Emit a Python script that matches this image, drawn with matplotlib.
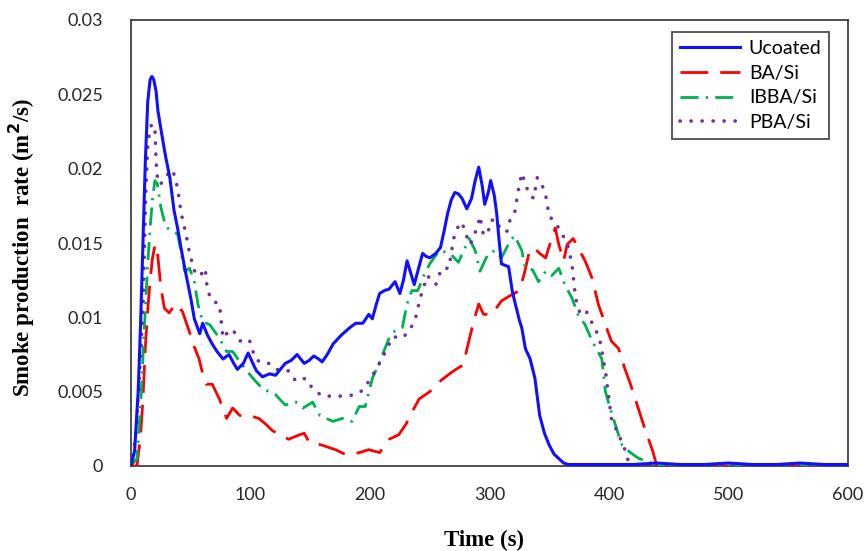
import matplotlib
matplotlib.use("Agg")
import matplotlib.pyplot as plt

# ── data ──
t_unc = [0, 3, 6, 8, 10, 12, 14, 16, 17.5, 19, 21, 22.5, 26, 29, 32.5, 36, 39, 42, 45, 48,
         50, 53, 57.5, 60, 64, 68, 72, 77, 82, 86, 89, 94, 98, 102, 105, 110, 116, 121, 125, 129,
         134, 139, 145, 149, 153, 157, 160, 165, 169, 176, 183, 188, 194, 199, 202, 205, 208, 212,
         216, 221, 225, 228, 231, 234, 237, 241, 244, 247, 250, 255, 259, 262, 265, 268, 271, 274,
         277, 281, 285, 288, 291, 294, 296, 299, 301, 304, 306, 308, 310, 313, 316, 319, 321, 325,
         327, 330, 334, 338, 342, 346, 350, 354, 358, 362, 366, 380, 400, 420, 440, 460, 480, 500,
         520, 540, 560, 580, 600]
v_unc = [0, 0.001, 0.005, 0.0095, 0.015, 0.0205, 0.0245, 0.026, 0.0262, 0.026, 0.0252, 0.0239,
         0.0222, 0.0208, 0.0194, 0.0172, 0.016, 0.0146, 0.0133, 0.0121, 0.0113, 0.0099, 0.0089,
         0.0096, 0.0088, 0.0082, 0.0077, 0.0072, 0.0075, 0.0069, 0.0065, 0.0069, 0.0076, 0.0069,
         0.0064, 0.006, 0.0062, 0.0061, 0.0065, 0.0069, 0.0071, 0.0075, 0.0069, 0.0071, 0.0074,
         0.0072, 0.007, 0.0076, 0.0082, 0.0088, 0.0093, 0.0096, 0.0096, 0.0102, 0.0099, 0.0108,
         0.0116, 0.0118, 0.0119, 0.0124, 0.0116, 0.0125, 0.0138, 0.013, 0.0122, 0.0134, 0.0143,
         0.0141, 0.014, 0.0143, 0.0147, 0.0158, 0.017, 0.0179, 0.0184, 0.0183, 0.018, 0.0173,
         0.018, 0.0192, 0.0201, 0.0188, 0.0176, 0.0184, 0.0192, 0.0182, 0.017, 0.0152, 0.0136,
         0.0135, 0.0134, 0.0118, 0.0111, 0.0098, 0.0093, 0.0079, 0.0072, 0.0059, 0.0034, 0.0022,
         0.0014, 0.0008, 0.0005, 0.0002, 0.0001, 0.0001, 0.0001, 0.0001, 0.0002, 0.0001, 0.0001,
         0.0002, 0.0001, 0.0001, 0.0002, 0.0001, 0.0001]

t_ba = [0, 5, 8, 10, 12, 14, 16, 18, 20, 21, 22, 25, 28, 32, 37, 43, 49, 53, 57, 60,
        63, 68, 74, 80, 85, 91, 99, 107, 113, 118, 124, 132, 141, 145, 149, 155, 160, 171, 179, 185,
        191, 199, 208, 216, 224, 230, 235, 241, 250, 260, 270, 278, 283, 287, 291, 295, 302, 310, 316, 325,
        329, 333, 337, 342, 347, 352, 355, 358, 362, 365, 370, 374, 380, 386, 391, 397, 402, 408, 413, 418,
        422, 426, 430, 434, 437, 440, 460, 500, 550, 600]
v_ba = [0, 0, 0.002, 0.0045, 0.008, 0.0105, 0.0125, 0.014, 0.0148, 0.0149,
        0.0145, 0.012, 0.0106, 0.0103, 0.0109, 0.0104, 0.009, 0.008, 0.0072, 0.0062,
        0.0055, 0.0055, 0.0045, 0.0032, 0.0039, 0.0034, 0.0034, 0.0032, 0.0028, 0.0024,
        0.0021, 0.0018, 0.0021, 0.0022, 0.0016, 0.0015, 0.0014, 0.0011, 0.0008, 0.0008,
        0.0009, 0.0011, 0.0009, 0.0018, 0.0021, 0.0028, 0.0036, 0.0045, 0.005, 0.0058,
        0.0064, 0.0068, 0.0085, 0.0098, 0.0109, 0.0102, 0.0102, 0.0111, 0.0114, 0.0118,
        0.0129, 0.0143, 0.0147, 0.0143, 0.014, 0.0153, 0.016, 0.0149, 0.0138, 0.0149,
        0.0153, 0.0147, 0.0138, 0.0126, 0.0109, 0.0095, 0.0084, 0.0079, 0.0066, 0.0055,
        0.0045, 0.0035, 0.0025, 0.0016, 0.0009, 0.0, 0, 0, 0, 0]

t_ibba = [0, 5, 8, 11, 14, 16, 18, 20, 22, 25, 29, 34, 39, 45, 49, 53, 56, 60, 66, 74,
          80, 85, 93, 102, 110, 121, 129, 138, 144, 152, 158, 169, 177, 185, 191, 196, 202, 208, 216, 221,
          227, 231, 235, 240, 245, 250, 258, 267, 274, 283, 288, 292, 299, 305, 310, 317, 321, 327, 330, 336,
          341, 347, 352, 358, 363, 369, 374, 380, 386, 394, 397, 402, 408, 411, 418, 425, 433, 440, 460, 500,
          550, 600]
v_ibba = [0, 0.0005, 0.004, 0.009, 0.0136, 0.016, 0.018, 0.0192, 0.019, 0.0174,
          0.0161, 0.0158, 0.0156, 0.0131, 0.0133, 0.0124, 0.0109, 0.0097, 0.0095, 0.0086,
          0.0077, 0.0077, 0.0068, 0.0059, 0.0052, 0.0048, 0.0041, 0.0043, 0.0039, 0.0043,
          0.0034, 0.003, 0.0032, 0.003, 0.004, 0.004, 0.0059, 0.007, 0.0086, 0.0091,
          0.0093, 0.0109, 0.0118, 0.0118, 0.0128, 0.0136, 0.0145, 0.0143, 0.0137, 0.0153,
          0.0145, 0.0131, 0.0143, 0.0145, 0.014, 0.0151, 0.0155, 0.0145, 0.0133, 0.0132,
          0.0124, 0.0131, 0.0128, 0.0133, 0.0122, 0.0113, 0.0102, 0.0095, 0.0084, 0.0072,
          0.005, 0.0036, 0.0021, 0.0014, 0.0009, 0.0005, 0.0003, 0, 0, 0,
          0, 0]

t_pba = [0, 4, 7, 10, 12.5, 14, 16, 18, 20, 21, 22.5, 25, 28, 32, 35, 39, 42, 46, 49, 54,
         58, 62, 64, 68, 74, 77, 81, 85, 91, 95, 99, 104, 110, 116, 124, 132, 138, 146, 152, 160,
         169, 179, 188, 194, 199, 206, 213, 219, 227, 233, 238, 242, 248, 255, 260, 266, 270, 273, 277, 280,
         284, 290, 292, 295, 299, 301, 305, 310, 315, 317, 321, 324, 327, 330, 333, 337, 340, 344, 347, 350,
         355, 360, 365, 369, 372, 376, 381, 384, 388, 392, 397, 400, 402, 408, 412, 415, 417, 440, 480, 520,
         560, 600]
v_pba = [0, 0.002, 0.006, 0.0106, 0.0187, 0.0215, 0.0228, 0.023, 0.0228, 0.0205,
         0.019, 0.019, 0.0192, 0.0198, 0.0199, 0.0187, 0.017, 0.0156, 0.0143, 0.0129,
         0.0128, 0.0133, 0.0118, 0.0111, 0.0109, 0.0086, 0.009, 0.0092, 0.0084, 0.0085,
         0.0085, 0.0072, 0.0069, 0.0069, 0.0064, 0.0064, 0.0057, 0.0059, 0.0052, 0.0047,
         0.0047, 0.0047, 0.0048, 0.0051, 0.0057, 0.0066, 0.0077, 0.0087, 0.0086, 0.0091,
         0.0099, 0.0113, 0.0128, 0.0122, 0.0133, 0.0133, 0.0153, 0.016, 0.0164, 0.0156,
         0.0149, 0.0161, 0.0168, 0.0155, 0.0158, 0.0165, 0.0166, 0.0158, 0.0158, 0.0165,
         0.017, 0.0185, 0.0197, 0.019, 0.0183, 0.018, 0.0194, 0.0189, 0.0182, 0.0168,
         0.0164, 0.0157, 0.015, 0.0136, 0.0113, 0.0102, 0.0104, 0.0099, 0.0093, 0.0086,
         0.0064, 0.0045, 0.0032, 0.0021, 0.0014, 0.0007, 0, 0, 0, 0,
         0, 0]

labels = ["Ucoated", "BA/Si", "IBBA/Si", "PBA/Si"]
x_ticks = [0, 100, 200, 300, 400, 500, 600]
y_ticks = [0, 0.005, 0.01, 0.015, 0.02, 0.025, 0.03]
y_tick_labels = ["0", "0.005", "0.01", "0.015", "0.02", "0.025", "0.03"]

TICK_FONT = "Lato"
SERIF = "Liberation Serif"

fig = plt.figure(figsize=(8.65, 5.51), dpi=100)
ax = fig.add_axes([131 / 865, 1 - 466 / 551, 717 / 865, 446 / 551])

ax.plot(t_unc, v_unc, color="#1010FF", lw=2.2, label=labels[0], zorder=4)
ax.plot(t_ba, v_ba, color="#FF0000", lw=2.0, dashes=(10, 4.3), label=labels[1], zorder=3)
ax.plot(t_ibba, v_ibba, color="#00B050", lw=2.0, dashes=(6.5, 2.6, 0.8, 2.6),
        label=labels[2], zorder=3)
ax.plot(t_pba, v_pba, color="#7030A0", lw=2.6, dashes=(0.05, 3.0),
        dash_capstyle="round", label=labels[3], zorder=3)

ax.set_xlim(0, 600)
ax.set_ylim(0, 0.03)
ax.set_xticks(x_ticks)
ax.set_yticks(y_ticks)
ax.set_yticklabels(y_tick_labels)
ax.tick_params(length=0, labelsize=13, colors="#262626")
ax.tick_params(axis="y", pad=20)
ax.tick_params(axis="x", pad=15)
for lab in ax.get_xticklabels() + ax.get_yticklabels():
    lab.set_fontfamily(TICK_FONT)

for sp in ax.spines.values():
    sp.set_color("#303030")
    sp.set_linewidth(1.2)

fig.text(484 / 865, 1 - 540 / 551, "Time (s)", ha="center", va="center",
         fontsize=16.5, fontweight="bold", family=SERIF)
fig.text(22 / 865, 1 - 248 / 551, "Smoke production  rate (m$^\\mathbf{2}$/s)",
         ha="center", va="center", rotation=90, fontsize=16.5,
         fontweight="bold", family=SERIF)

leg = ax.legend(loc="upper left", bbox_to_anchor=(672 / 865, 1 - 32 / 551),
                bbox_transform=fig.transFigure, frameon=True, fancybox=False,
                prop={"family": TICK_FONT, "size": 14}, handlelength=3.1,
                handletextpad=0.45, labelspacing=0.4, borderpad=0.4,
                borderaxespad=0)
leg.get_frame().set_edgecolor("#202020")
leg.get_frame().set_linewidth(1.3)

fig.savefig("out.png", dpi=100)
